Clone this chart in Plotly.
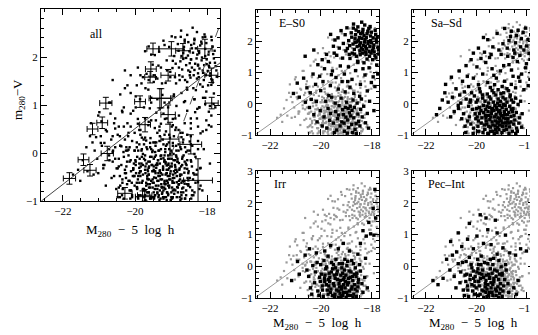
import plotly.graph_objects as go

FONT = "Liberation Serif"

# colour vs. absolute magnitude, one list per morphological type
ES0 = [
    (-18.52, 2.31), (-18.31, 2.18), (-18.05, 2.02), (-17.92, 1.88), (-18.44, 1.95), (-18.21, 1.76), (-18.66, 2.08), (-18.12, 2.41), (-17.85, 2.22), (-18.37, 1.62),
    (-18.58, 1.83), (-18.27, 2.05), (-17.98, 1.71), (-18.81, 2.27), (-18.15, 1.93), (-18.49, 2.12), (-17.81, 1.97), (-18.69, 1.74), (-18.02, 2.29), (-18.35, 2.38),
    (-18.91, 2.02), (-18.23, 1.58), (-17.88, 1.54), (-18.61, 1.52), (-18.42, 1.78), (-18.08, 1.83), (-17.76, 1.81), (-18.74, 1.91), (-18.19, 2.24), (-18.55, 2.46),
    (-18.96, 1.77), (-18.33, 1.86), (-17.95, 2.11), (-18.64, 2.21), (-18.11, 1.67), (-18.47, 1.69), (-17.83, 2.06), (-18.29, 1.97), (-18.77, 1.62), (-18.05, 2.17),
    (-19.05, 2.21), (-18.39, 2.09), (-18.16, 2.32), (-17.91, 1.66), (-18.58, 1.98), (-18.25, 1.84), (-18.87, 1.86), (-18.01, 1.95), (-18.44, 2.25), (-17.79, 2.13),
    (-19.12, 1.93), (-18.68, 1.59), (-18.35, 1.73), (-18.09, 1.52), (-18.53, 2.03), (-18.22, 2.12), (-17.94, 1.79), (-18.79, 2.13), (-18.48, 1.87), (-18.14, 1.99),
    (-19.21, 2.34), (-18.98, 2.43), (-18.62, 2.36), (-18.28, 2.52), (-17.87, 2.35), (-18.72, 2.55), (-18.40, 2.61), (-19.33, 2.11), (-19.02, 1.69), (-18.86, 1.45),
    (-18.19, 1.43), (-17.97, 1.41), (-18.56, 1.36), (-18.31, 1.31), (-17.84, 1.47), (-18.89, 1.58), (-19.28, 1.78), (-19.45, 2.04), (-19.38, 1.55), (-18.07, 2.47),
    (-19.62, 2.22), (-19.51, 1.84), (-18.73, 2.42), (-18.36, 2.28), (-18.03, 1.62), (-17.74, 1.72), (-17.73, 1.59), (-18.46, 1.57), (-18.66, 1.96), (-18.25, 1.66),
    (-20.42, 0.35), (-20.21, 0.62), (-20.05, 0.88), (-19.86, 1.12), (-19.71, 1.35), (-19.55, 1.05), (-19.92, 0.71), (-20.31, 0.95), (-19.63, 0.58), (-19.41, 0.84),
    (-19.24, 1.21), (-19.08, 0.95), (-18.92, 1.18), (-18.78, 0.78), (-18.64, 1.06), (-18.45, 0.62), (-18.27, 0.92), (-18.11, 1.15), (-17.95, 0.86), (-17.81, 1.24),
    (-20.55, 0.51), (-20.68, 0.82), (-20.12, 1.25), (-19.78, 1.58), (-19.95, 1.41), (-19.32, 0.47), (-19.17, 0.71), (-18.86, 0.53), (-18.55, 1.32), (-18.35, 1.12),
    (-20.85, 0.21), (-20.93, 0.66), (-21.08, 0.33), (-20.62, 1.52), (-20.28, 1.72), (-19.48, 1.62), (-19.15, 1.46), (-18.71, 0.33), (-18.18, 0.41), (-17.88, 0.55),
    (-20.38, 0.14), (-20.01, 0.42), (-19.69, 0.26), (-19.05, 0.38), (-18.48, 0.24), (-17.77, 0.95), (-18.02, 0.68), (-18.95, 0.71), (-19.59, 0.93), (-20.18, 0.07),
    (-19.12, -0.35), (-18.95, -0.52), (-18.78, -0.21), (-18.62, -0.64), (-19.25, -0.71), (-18.85, -0.08), (-18.55, -0.33), (-19.04, -0.12), (-18.71, -0.45), (-19.35, -0.48),
    (-18.44, -0.18), (-18.91, -0.76), (-19.18, -0.58), (-18.66, -0.82), (-19.42, -0.25), (-18.83, -0.39), (-18.52, -0.57), (-19.08, -0.88), (-18.38, -0.42), (-19.29, -0.06),
    (-18.99, 0.05), (-18.74, 0.12), (-19.51, -0.62), (-18.47, -0.71), (-19.62, -0.31), (-18.58, 0.02), (-19.15, -0.19), (-18.88, -0.29), (-18.69, -0.12), (-19.38, -0.84),
    (-19.72, -0.15), (-19.88, -0.42), (-20.03, -0.22), (-19.81, 0.08), (-20.15, -0.58), (-19.95, -0.71), (-20.28, -0.35), (-19.66, -0.53), (-18.32, -0.08), (-18.25, -0.61),
    (-19.21, 0.18), (-18.96, -0.94), (-18.61, -0.95), (-19.47, -0.92), (-18.79, -0.66), (-19.02, -0.43), (-18.41, 0.15), (-19.58, 0.21), (-20.45, -0.12), (-20.61, 0.05),
    (-18.18, -0.31), (-18.09, 0.08), (-17.92, -0.22), (-18.13, -0.78), (-19.31, -0.36), (-18.93, -0.15), (-19.09, -0.62), (-18.76, -0.92), (-19.44, 0.02), (-19.77, -0.78),
]

SASD = [
    (-19.31, -0.22), (-19.15, -0.45), (-18.98, -0.12), (-19.52, -0.38), (-19.72, -0.05), (-18.84, -0.61), (-19.26, -0.71), (-19.61, -0.55), (-18.72, -0.28), (-19.05, 0.08),
    (-19.43, 0.15), (-19.88, -0.31), (-18.91, -0.85), (-19.19, -0.92), (-18.63, -0.41), (-19.67, -0.82), (-20.02, -0.48), (-19.38, -0.58), (-18.79, 0.05), (-19.12, -0.26),
    (-18.55, -0.15), (-19.95, 0.12), (-20.15, -0.18), (-19.48, -0.12), (-18.88, -0.35), (-19.23, 0.28), (-18.69, -0.74), (-19.81, -0.62), (-19.02, -0.55), (-18.48, -0.52),
    (-19.57, 0.31), (-20.22, -0.65), (-19.34, -0.88), (-18.95, 0.21), (-18.61, 0.12), (-19.71, -0.28), (-20.08, 0.25), (-19.16, 0.02), (-18.82, -0.18), (-19.45, -0.75),
    (-18.42, -0.28), (-19.63, -0.18), (-19.08, -0.68), (-18.75, -0.48), (-19.28, -0.42), (-20.31, -0.08), (-19.91, -0.88), (-18.58, -0.88), (-19.55, -0.95), (-18.35, -0.02),
    (-19.85, 0.38), (-19.38, 0.42), (-18.92, 0.35), (-18.66, 0.28), (-20.41, 0.15), (-20.28, -0.42), (-19.99, -0.15), (-19.75, 0.18), (-19.21, -0.11), (-18.86, -0.05),
    (-19.11, -0.82), (-18.52, -0.65), (-19.47, -0.51), (-19.69, -0.68), (-18.71, -0.95), (-19.33, 0.05), (-19.01, -0.38), (-18.78, -0.58), (-19.58, -0.08), (-20.11, -0.78),
    (-18.45, 0.18), (-18.29, -0.45), (-18.21, -0.75), (-18.38, -0.88), (-20.51, -0.32), (-20.62, 0.02), (-20.45, -0.72), (-19.92, -0.55), (-19.18, -0.62), (-18.97, -0.72),
    (-19.41, -0.31), (-19.25, -0.55), (-19.07, -0.22), (-18.68, -0.08), (-19.78, -0.45), (-19.52, 0.02), (-18.94, -0.45), (-19.36, -0.15), (-18.81, -0.82), (-19.64, -0.38),
    (-19.14, 0.15), (-18.57, -0.25), (-20.05, -0.32), (-19.87, -0.12), (-19.29, -0.95), (-18.63, -0.58), (-19.49, 0.22), (-19.03, 0.32), (-18.74, 0.42), (-20.19, 0.35),
    (-18.89, -0.25), (-19.22, -0.35), (-19.59, -0.65), (-19.09, -0.48), (-18.51, -0.38), (-19.82, -0.22), (-19.44, -0.88), (-18.77, -0.35), (-19.16, -0.75), (-18.99, -0.92),
    (-20.35, -0.55), (-20.58, -0.48), (-20.71, -0.15), (-20.66, 0.28), (-18.32, -0.62), (-18.25, 0.08), (-18.41, -0.78), (-18.19, -0.32), (-19.66, 0.08), (-19.94, -0.72),
    (-19.35, -0.68), (-19.05, -0.32), (-18.83, -0.71), (-19.54, -0.25), (-19.27, -0.05), (-18.93, -0.02), (-18.62, -0.18), (-19.74, -0.92), (-20.01, 0.05), (-19.43, -0.42),
    (-19.12, -0.58), (-18.71, -0.62), (-18.86, 0.15), (-19.31, 0.35), (-19.76, 0.28), (-20.24, 0.12), (-18.54, 0.05), (-18.44, -0.95), (-19.62, -0.45), (-19.19, -0.18),
    (-19.97, -0.42), (-20.42, -0.92), (-20.13, -0.95), (-18.67, 0.22), (-18.96, -0.62), (-19.39, -0.22), (-19.08, -0.05), (-18.84, -0.48), (-19.51, -0.72), (-19.24, -0.82),
    (-20.81, 0.48), (-20.55, 0.72), (-20.31, 0.55), (-20.12, 0.82), (-19.92, 0.61), (-19.75, 0.95), (-19.55, 0.68), (-19.38, 1.12), (-19.21, 0.82), (-19.05, 1.05),
    (-18.88, 0.72), (-18.71, 1.25), (-18.55, 0.88), (-18.38, 1.35), (-18.21, 0.95), (-18.05, 1.15), (-17.88, 0.78), (-20.95, 0.21), (-21.12, 0.05), (-21.25, 0.35),
    (-20.68, 1.05), (-20.41, 1.22), (-20.21, 1.41), (-19.98, 1.18), (-19.82, 1.45), (-19.63, 1.32), (-19.45, 0.52), (-19.28, 0.61), (-18.98, 0.55), (-18.79, 0.48),
    (-18.62, 0.62), (-18.45, 0.51), (-18.28, 0.72), (-18.12, 0.45), (-17.95, 0.58), (-17.82, 1.02), (-20.72, -0.05), (-20.88, -0.25), (-21.02, -0.42), (-21.35, 0.12),
    (-21.45, -0.15), (-20.99, 0.85), (-20.48, 0.38), (-20.25, 0.05), (-19.88, 0.48), (-19.14, 0.45), (-18.92, 1.22), (-18.61, 1.08), (-18.33, 0.85), (-18.02, 1.28),
    (-19.68, 1.65), (-19.92, 1.78), (-20.12, 1.62), (-19.48, 1.48), (-18.76, 1.52), (-18.48, 1.62), (-21.58, -0.35), (-21.22, 0.62), (-20.36, 0.88), (-19.31, 0.91),
    (-18.45, 1.95), (-18.22, 2.08), (-18.01, 1.85), (-17.85, 2.21), (-18.65, 2.15), (-18.95, 1.92), (-19.18, 2.25), (-18.35, 2.35), (-18.12, 1.72), (-17.92, 1.61),
    (-18.78, 1.78), (-19.35, 1.82), (-19.55, 2.05), (-18.52, 1.72), (-18.28, 1.55), (-17.78, 1.88), (-18.88, 2.41), (-18.62, 2.32), (-19.02, 1.58), (-17.96, 2.05),
    (-18.42, 2.18), (-18.15, 2.28), (-19.72, 2.12), (-18.71, 2.02), (-17.88, 1.42), (-18.25, 1.82), (-18.55, 1.48), (-19.11, 1.72), (-19.42, 1.58), (-18.05, 2.42),
]

IRR = [
    (-19.35, -0.42), (-19.18, -0.65), (-19.02, -0.28), (-19.51, -0.55), (-19.68, -0.22), (-18.88, -0.78), (-19.25, -0.85), (-19.61, -0.72), (-18.75, -0.45), (-19.08, -0.12),
    (-19.42, -0.05), (-19.85, -0.48), (-18.95, -0.92), (-19.21, -0.95), (-18.68, -0.58), (-19.72, -0.88), (-19.95, -0.62), (-19.38, -0.75), (-18.82, -0.18), (-19.12, -0.42),
    (-18.62, -0.32), (-19.81, -0.08), (-20.05, -0.35), (-19.48, -0.28), (-18.91, -0.52), (-19.28, 0.08), (-18.71, -0.88), (-19.75, -0.75), (-19.05, -0.68), (-18.55, -0.65),
    (-19.58, 0.12), (-20.12, -0.78), (-19.32, -0.98), (-18.98, 0.02), (-18.65, -0.05), (-19.71, -0.42), (-20.01, 0.05), (-19.15, -0.22), (-18.85, -0.35), (-19.45, -0.88),
    (-18.52, -0.42), (-19.65, -0.35), (-19.11, -0.82), (-18.78, -0.65), (-19.29, -0.55), (-20.22, -0.18), (-19.91, -0.95), (-18.61, -0.95), (-19.55, -0.92), (-18.45, -0.15),
    (-19.88, 0.18), (-19.41, 0.22), (-18.95, 0.15), (-18.72, 0.08), (-20.32, 0.02), (-20.25, -0.52), (-19.98, -0.25), (-19.78, -0.02), (-19.22, -0.28), (-18.89, -0.15),
    (-19.14, -0.92), (-18.58, -0.78), (-19.48, -0.62), (-19.69, -0.62), (-18.74, -0.98), (-19.36, -0.15), (-19.04, -0.48), (-18.81, -0.72), (-19.59, -0.18), (-20.08, -0.92),
    (-18.48, 0.05), (-18.39, -0.55), (-18.35, -0.82), (-20.41, -0.68), (-20.48, -0.32), (-19.94, -0.75), (-19.19, -0.72), (-18.99, -0.82), (-19.44, -0.38), (-19.27, -0.65),
    (-19.09, -0.35), (-18.69, -0.25), (-19.79, -0.58), (-19.54, -0.08), (-18.96, -0.58), (-19.38, -0.25), (-18.84, -0.92), (-19.66, -0.48), (-19.16, 0.08), (-18.59, -0.22),
    (-20.02, -0.48), (-19.84, -0.28), (-19.31, -0.78), (-18.66, -0.72), (-19.51, 0.05), (-19.06, 0.22), (-18.79, 0.18), (-20.15, 0.12), (-18.92, -0.38), (-19.24, -0.45),
    (-19.62, -0.82), (-19.11, -0.58), (-18.54, -0.52), (-19.86, -0.38), (-19.47, -0.95), (-18.76, -0.32), (-19.18, -0.05), (-19.01, -0.98), (-20.36, -0.88), (-20.55, -0.12),
    (-20.62, 0.35), (-20.45, 0.55), (-20.18, 0.42), (-19.85, 0.48), (-19.62, 0.65), (-19.32, 0.55), (-19.12, 0.72), (-18.88, 0.48), (-18.55, 0.38), (-18.22, 0.95),
    (-18.05, 1.02), (-17.92, 0.98), (-18.12, 1.38), (-17.85, 1.52), (-18.35, 1.12), (-17.88, 2.42), (-18.45, 0.72), (-20.85, -0.25), (-20.92, 0.15), (-21.15, -0.45),
    (-18.28, -0.35), (-18.18, -0.68), (-18.25, 0.25), (-19.72, 0.32), (-17.95, 1.82),
]

PEC = [
    (-19.72, -0.35), (-19.55, -0.58), (-19.38, -0.22), (-19.91, -0.48), (-20.12, -0.15), (-19.25, -0.72), (-19.62, -0.82), (-20.01, -0.68), (-19.12, -0.42), (-19.45, -0.08),
    (-19.82, 0.05), (-20.25, -0.42), (-19.35, -0.92), (-19.58, -0.95), (-19.05, -0.55), (-20.08, -0.88), (-20.35, -0.62), (-19.78, -0.75), (-19.18, -0.15), (-19.48, -0.38),
    (-18.98, -0.28), (-20.21, 0.05), (-20.45, -0.28), (-19.88, -0.22), (-19.31, -0.48), (-19.68, 0.12), (-19.08, -0.85), (-20.15, -0.78), (-19.42, -0.68), (-18.92, -0.62),
    (-19.95, 0.22), (-20.52, -0.75), (-19.71, -0.98), (-19.35, 0.05), (-19.02, -0.02), (-20.11, -0.38), (-20.41, 0.15), (-19.52, -0.25), (-19.22, -0.32), (-19.85, -0.88),
    (-18.88, -0.42), (-20.05, -0.32), (-19.48, -0.82), (-19.15, -0.65), (-19.65, -0.55), (-20.62, -0.18), (-20.31, -0.95), (-18.98, -0.95), (-19.92, -0.92), (-18.82, -0.12),
    (-20.28, 0.28), (-19.81, 0.32), (-19.32, 0.25), (-19.11, 0.18), (-20.72, 0.08), (-20.65, -0.52), (-20.38, -0.25), (-20.18, -0.05), (-19.61, -0.28), (-19.28, -0.12),
    (-19.52, -0.92), (-18.95, -0.78), (-19.88, -0.62), (-20.09, -0.62), (-19.12, -0.98), (-19.75, -0.12), (-19.42, -0.52), (-19.21, -0.78), (-19.98, -0.18), (-20.48, -0.92),
    (-18.85, 0.05), (-18.75, -0.55), (-18.72, -0.82), (-20.81, -0.68), (-20.88, -0.32), (-20.34, -0.75), (-19.58, -0.72), (-19.38, -0.82), (-19.84, -0.38), (-19.65, -0.65),
    (-19.48, -0.35), (-19.08, -0.25), (-20.18, -0.58), (-19.94, -0.08), (-19.35, -0.58), (-19.78, -0.25), (-19.22, -0.92), (-20.06, -0.48), (-19.55, 0.08), (-18.98, -0.22),
    (-20.42, -0.48), (-20.24, -0.28), (-19.71, -0.78), (-19.05, -0.72), (-19.91, 0.05), (-19.45, 0.22), (-19.18, 0.38), (-20.55, 0.12), (-19.31, -0.38), (-19.62, -0.45),
    (-21.05, -0.12), (-21.18, 0.22), (-20.95, 0.35), (-21.32, -0.38), (-21.52, -0.58), (-21.72, -0.45), (-20.78, 0.45), (-20.58, 0.62), (-20.35, 0.85), (-20.12, 0.55),
    (-19.98, 0.95), (-19.72, 0.72), (-19.55, 1.15), (-19.42, 0.68), (-19.18, 1.05), (-18.95, 0.58), (-18.68, 0.42), (-18.45, 0.35), (-18.35, -0.45), (-18.52, -0.68),
    (-20.28, 1.35), (-19.62, 1.52), (-19.85, 1.62), (-18.25, 0.55), (-18.02, 0.48), (-21.02, 0.78), (-20.72, 1.05), (-19.25, 1.45), (-18.85, 0.98), (-18.42, -0.88),
]

# binned means with errors shown in the "all" panel
CROSS_M = [-21.82, -21.43, -21.25, -21.18, -20.91, -20.81, -20.77, -20.28, -19.86, -19.72, -19.79, -19.56, -19.58, -19.50,
           -18.99, -18.67, -19.08, -19.27, -18.06, -17.88, -17.87, -19.08, -18.45, -18.25, -19.73, -19.31, -19.03]
CROSS_C = [-0.53, -0.14, -0.36, 0.50, 0.63, 1.04, -0.01, -0.84, 1.07, 0.59, -0.91, 1.75, 1.58, 2.17,
           2.17, 2.13, 1.62, 1.14, 2.17, 1.62, 1.04, 0.80, 0.18, -0.57, -0.88, 1.14, 0.29]
CROSS_DM = [0.17, 0.15, 0.17, 0.15, 0.15, 0.17, 0.17, 0.2, 0.15, 0.15, 0.2, 0.15, 0.15, 0.17,
            0.35, 0.2, 0.2, 0.3, 0.2, 0.18, 0.18, 0.2, 0.3, 0.4, 0.2, 0.3, 0.25]
CROSS_DC = [0.12, 0.12, 0.12, 0.12, 0.12, 0.12, 0.15, 0.12, 0.12, 0.15, 0.12, 0.15, 0.12, 0.12,
            0.15, 0.15, 0.12, 0.2, 0.2, 0.15, 0.12, 0.2, 0.2, 0.45, 0.12, 0.2, 0.35]

FIT_M = [-22.6, -17.6]
FIT_C = [-1.0, 1.9]
DASH_M = [-19.0, -17.55]
DASH_C = [-0.04, 2.85]

X_TICKS = [-22, -20, -18]
X_TICKTEXT = ["\u221222", "\u221220", "\u221218"]
Y_TICKS = [-1, 0, 1, 2, 3]
Y_TICKTEXT = ["\u22121", "0", "1", "2", "3"]

XLABEL = "M<sub>280</sub>\u2002\u2212\u20025\u2002log\u2002h"
YLABEL = "m<sub>280</sub>\u2212V"

# the page body has an 8px margin, so the figure starts at (8, 8) on screen
W, H = 530, 327


def px(sx):
    return (sx - 8) / W


def py(sy):
    return 1 - (sy - 8) / H


def unzip(pts):
    return [p[0] for p in pts], [p[1] for p in pts]


def axis(domain, anchor, vals, text, rng, minor):
    return dict(
        domain=domain, anchor=anchor, range=rng, tickmode="array", tickvals=vals, ticktext=text,
        ticks="inside", ticklen=6, tickwidth=1, tickcolor="black", mirror="ticks",
        showline=True, linecolor="black", linewidth=1, showgrid=False, zeroline=False,
        automargin=False, tickfont=dict(family=FONT, size=11, color="black"),
        minor=dict(tickmode="linear", tick0=0, dtick=minor, ticks="inside", ticklen=3,
                   tickcolor="black", showgrid=False),
    )


fig = go.Figure()

# panel 1: every galaxy
all_pts = ES0 + SASD + IRR + PEC
mx, my = unzip(all_pts)
fig.add_trace(go.Scatter(x=mx, y=my, mode="markers", xaxis="x", yaxis="y",
                         marker=dict(size=2.4, color="black", symbol="square", line_width=0)))
fig.add_trace(go.Scatter(x=FIT_M, y=FIT_C, mode="lines", xaxis="x", yaxis="y",
                         line=dict(color="#444", width=1)))
fig.add_trace(go.Scatter(x=DASH_M, y=DASH_C, mode="lines", xaxis="x", yaxis="y",
                         line=dict(color="#555", width=1, dash="dash")))
fig.add_trace(go.Scatter(
    x=CROSS_M, y=CROSS_C, mode="markers", xaxis="x", yaxis="y",
    marker=dict(size=1, color="black"),
    error_x=dict(type="data", array=CROSS_DM, color="black", thickness=1, width=3),
    error_y=dict(type="data", array=CROSS_DC, color="black", thickness=1, width=3),
))

top_y = [py(135), py(10)]
bot_y = [py(298), py(171)]
left_x = [px(256), px(379)]
right_x = [px(412), px(534)]

panels = [
    ("E\u2013S0", ES0, "2", left_x, top_y, (-21.14, 2.58)),
    ("Sa\u2013Sd", SASD, "3", right_x, top_y, (-21.2, 2.58)),
    ("Irr", IRR, "4", left_x, bot_y, (-21.6, 2.59)),
    ("Pec\u2013Int", PEC, "5", right_x, bot_y, (-21.2, 2.59)),
]

layout_axes = {
    "xaxis": axis([px(41), px(220)], "y", X_TICKS, X_TICKTEXT, [-22.61, -17.64], 0.5),
    "yaxis": axis([py(201), py(9)], "x", Y_TICKS, Y_TICKTEXT, [-1, 3], 0.2),
}
annotations = [dict(text="all", x=-21.06, y=2.47, xref="x", yref="y", showarrow=False,
                    xanchor="center", yanchor="middle",
                    font=dict(family=FONT, size=12, color="black"))]

for name, pts, k, dx, dy, (lx, ly) in panels:
    others = [p for p in all_pts if p not in pts]
    gx, gy = unzip(others)
    bx, by = unzip(pts)
    fig.add_trace(go.Scatter(x=FIT_M, y=FIT_C, mode="lines", xaxis="x" + k, yaxis="y" + k,
                             line=dict(color="#999", width=1)))
    fig.add_trace(go.Scatter(x=gx, y=gy, mode="markers", xaxis="x" + k, yaxis="y" + k,
                             marker=dict(size=2.2, color="#9a9a9a", symbol="square", line_width=0)))
    fig.add_trace(go.Scatter(x=bx, y=by, mode="markers", xaxis="x" + k, yaxis="y" + k,
                             marker=dict(size=3.4, color="black", symbol="square", line_width=0)))
    layout_axes["xaxis" + k] = axis(dx, "y" + k, X_TICKS, X_TICKTEXT, [-22.55, -17.72], 0.5)
    layout_axes["yaxis" + k] = axis(dy, "x" + k, Y_TICKS, Y_TICKTEXT, [-1, 3], 0.2)
    annotations.append(dict(text=name, x=lx, y=ly, xref="x" + k, yref="y" + k, showarrow=False,
                            xanchor="center", yanchor="middle",
                            font=dict(family=FONT, size=12, color="black")))

# axis titles, centred on the reference positions
title_font = dict(family=FONT, size=13, color="black")
for text, sx, sy, angle in [(XLABEL, 130, 231, 0), (YLABEL, 19, 100, -90),
                            (XLABEL, 317, 323, 0), (XLABEL, 473, 323, 0)]:
    annotations.append(dict(text=text, x=px(sx), y=py(sy), xref="paper", yref="paper",
                            xanchor="center", yanchor="middle", textangle=angle,
                            showarrow=False, font=title_font))

fig.update_layout(
    width=W, height=H, margin=dict(l=0, r=0, t=0, b=0),
    template="none", showlegend=False, paper_bgcolor="white", plot_bgcolor="white",
    annotations=annotations, **layout_axes,
)

fig.write_html("out.html")
